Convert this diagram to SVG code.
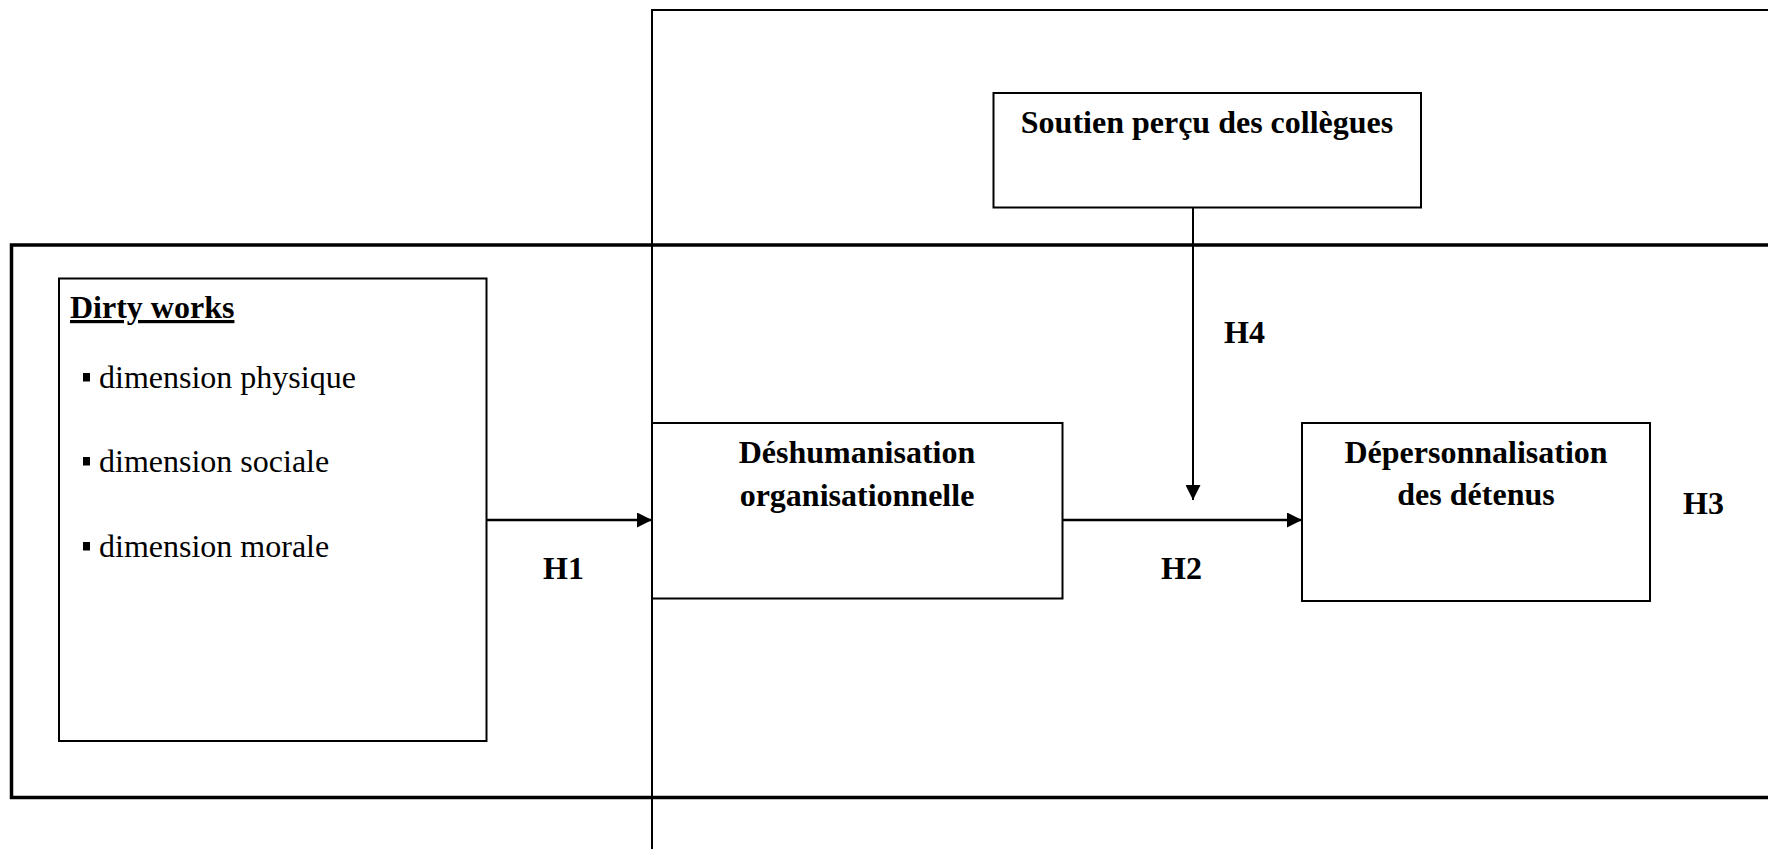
<svg xmlns="http://www.w3.org/2000/svg" width="1768" height="849" viewBox="0 0 1768 849">
<style>
  text { font-family: "Liberation Serif", "Times New Roman", serif; fill: #000; }
  .b { font-weight: bold; font-size: 32px; }
  .r { font-size: 32px; }
  .box { fill: none; stroke: #000; stroke-width: 2; }
  .thick { fill: none; stroke: #000; stroke-width: 3.5; }
  .conn { fill: none; stroke: #000; stroke-width: 2.5; }
</style>
<defs>
  <marker id="arr" viewBox="0 0 10 10" refX="10" refY="5" markerWidth="16" markerHeight="15" markerUnits="userSpaceOnUse" orient="auto">
    <path d="M0,0 L10,5 L0,10 Z" fill="#000"/>
  </marker>
</defs>
<rect width="1768" height="849" fill="#fff"/>
<g id="frame-moderation">
  <rect class="box" x="652" y="10" width="1200" height="900"/>
</g>
<g id="frame-model">
  <rect class="thick" x="11.5" y="245" width="1800" height="552.5"/>
</g>
<g id="node-dirty-works">
  <rect class="box" x="59" y="278.5" width="427.5" height="462.5"/>
  <text class="b" x="70" y="318" text-decoration="underline">Dirty works</text>
  <rect x="83" y="373" width="7" height="8.5" fill="#000"/>
  <text class="r" x="99" y="388">dimension physique</text>
  <rect x="83" y="457" width="7" height="8.5" fill="#000"/>
  <text class="r" x="99" y="472">dimension sociale</text>
  <rect x="83" y="542" width="7" height="8.5" fill="#000"/>
  <text class="r" x="99" y="557">dimension morale</text>
</g>
<g id="node-soutien">
  <rect class="box" x="993.5" y="93" width="427.5" height="114.5"/>
  <text class="b" x="1207" y="133" text-anchor="middle">Soutien perçu des collègues</text>
</g>
<g id="node-deshumanisation">
  <rect class="box" x="652" y="423" width="410.5" height="175.5"/>
  <text class="b" x="857" y="463" text-anchor="middle">Déshumanisation</text>
  <text class="b" x="857" y="506" text-anchor="middle">organisationnelle</text>
</g>
<g id="node-depersonnalisation">
  <rect class="box" x="1302" y="423" width="348" height="178"/>
  <text class="b" x="1476" y="463" text-anchor="middle">Dépersonnalisation</text>
  <text class="b" x="1476" y="505" text-anchor="middle">des détenus</text>
</g>
<g id="connectors">
  <line class="conn" x1="486.5" y1="520" x2="652" y2="520" marker-end="url(#arr)"/>
  <line class="conn" x1="1062.5" y1="520" x2="1302" y2="520" marker-end="url(#arr)"/>
  <line class="box" x1="1193" y1="207.5" x2="1193" y2="500" marker-end="url(#arr)"/>
</g>
<g id="labels">
  <text class="b" x="543" y="579">H1</text>
  <text class="b" x="1161" y="579">H2</text>
  <text class="b" x="1683" y="514">H3</text>
  <text class="b" x="1224" y="343">H4</text>
</g>
</svg>
